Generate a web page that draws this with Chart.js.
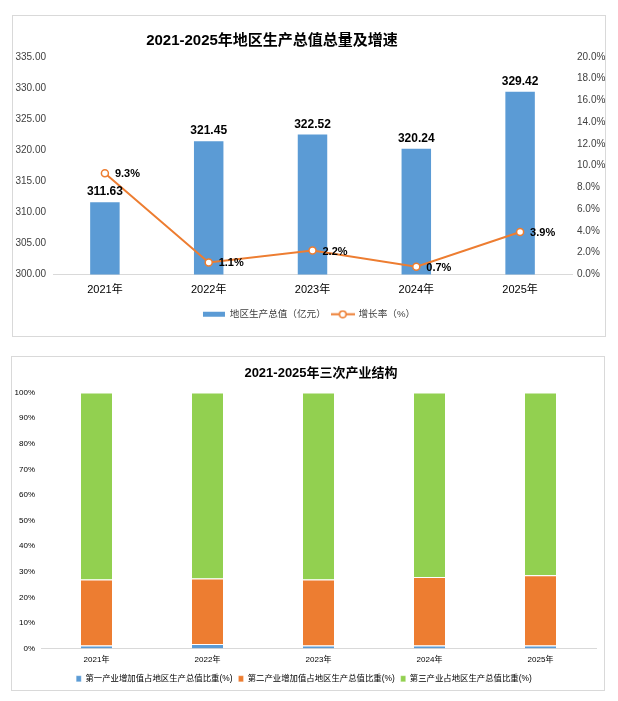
<!DOCTYPE html>
<html>
<head>
<meta charset="utf-8">
<script src="https://cdn.jsdelivr.net/npm/chart.js@4.4.1/dist/chart.umd.min.js"></script>
<style>
  body { margin: 0; background: #fff; width: 618px; height: 701px; position: relative; overflow: hidden; }
  .box { position: absolute; box-sizing: border-box; border: 1px solid #d9d9d9; }
  .box canvas { position: absolute; left: 0; top: 0; }
  .title { position: absolute; width: 400px; height: 20px; line-height: 20px; text-align: center; font-weight: bold; color: #000;
           font-family: "Liberation Sans", "Noto Sans CJK SC", sans-serif; }
</style>
</head>
<body>
<div class="box" style="left:12px;top:15px;width:594px;height:322px;">
  <canvas id="gdpChart" width="592" height="320"></canvas>
</div>
<div class="box" style="left:11px;top:356px;width:594px;height:335px;">
  <canvas id="structChart" width="592" height="336"></canvas>
</div>
<div class="title" style="left:72px;top:30px;font-size:15px;">2021-2025年地区生产总值总量及增速</div>
<div class="title" style="left:121px;top:363px;font-size:13px;">2021-2025年三次产业结构</div>

<script>
// Данные графиков
const years = ['2021年', '2022年', '2023年', '2024年', '2025年'];
const gdpValues = [311.63, 321.45, 322.52, 320.24, 329.42];   // 地区生产总值（亿元）
const growthRates = [9.3, 1.1, 2.2, 0.7, 3.9];                // 增长率（%）

const primaryShare = [1.2, 1.8, 1.2, 1.2, 1.2];
const secondaryShare = [25.8, 25.6, 25.8, 26.8, 27.4];
const tertiaryShare = [73.0, 72.6, 73.0, 72.0, 71.4];

const FONT = '"Liberation Sans", "Noto Sans CJK SC", sans-serif';
const BLUE = '#5B9BD5';
const ORANGE = '#ED7D31';
const GREEN = '#92D050';

Chart.defaults.font.family = FONT;
Chart.defaults.color = '#404040';

// Значок легенды для линии: отрезок с кружком
function lineLegendIcon() {
    const c = document.createElement('canvas');
    c.width = 24; c.height = 9;
    const g = c.getContext('2d');
    g.strokeStyle = ORANGE;
    g.lineWidth = 2;
    g.beginPath(); g.moveTo(0, 4.5); g.lineTo(24, 4.5); g.stroke();
    g.beginPath(); g.arc(12, 4.5, 3.3, 0, Math.PI * 2);
    g.fillStyle = '#fff'; g.fill();
    g.lineWidth = 1.5; g.stroke();
    return c;
}

// Подписи значений над столбцами и у точек
const valueLabels = {
    id: 'valueLabels',
    afterDatasetsDraw(chart) {
        const ctx = chart.ctx;
        ctx.save();
        ctx.fillStyle = '#000';
        const barMeta = chart.getDatasetMeta(0);
        ctx.font = 'bold 12px ' + FONT;
        ctx.textAlign = 'center';
        ctx.textBaseline = 'alphabetic';
        barMeta.data.forEach((el, i) => {
            ctx.fillText(gdpValues[i].toFixed(2), el.x, el.y - 7);
        });
        const lineMeta = chart.getDatasetMeta(1);
        ctx.font = 'bold 11px ' + FONT;
        ctx.textAlign = 'left';
        ctx.textBaseline = 'middle';
        lineMeta.data.forEach((el, i) => {
            ctx.fillText(growthRates[i].toFixed(1) + '%', el.x + 10, el.y + 1);
        });
        ctx.restore();
    }
};

// Верхний график: столбцы + линия
new Chart(document.getElementById('gdpChart'), {
    type: 'bar',
    data: {
        labels: years,
        datasets: [{
            label: '地区生产总值（亿元）',
            data: gdpValues,
            backgroundColor: BLUE,
            yAxisID: 'y',
            order: 1,
            barPercentage: 0.284,
            categoryPercentage: 1,
            pointStyle: 'rect'
        }, {
            type: 'line',
            label: '增长率（%）',
            data: growthRates,
            yAxisID: 'y1',
            order: 0,
            borderColor: ORANGE,
            borderWidth: 2,
            tension: 0,
            pointRadius: 3.5,
            pointBackgroundColor: '#fff',
            pointBorderColor: ORANGE,
            pointBorderWidth: 1.5
        }]
    },
    options: {
        responsive: false,
        animation: false,
        layout: { padding: { top: 41, bottom: 7, left: 0, right: 0 } },
        plugins: {
            tooltip: { enabled: false },
            legend: {
                position: 'bottom',
                labels: {
                    font: { size: 9.6 },
                    color: '#404040',
                    padding: 6,
                    usePointStyle: true,
                    pointStyleWidth: 22,
                    boxHeight: 5,
                    sort: (a, b) => a.datasetIndex - b.datasetIndex,
                    generateLabels(chart) {
                        const items = Chart.defaults.plugins.legend.labels.generateLabels(chart);
                        items.forEach(it => {
                            if (it.datasetIndex === 1) it.pointStyle = lineLegendIcon();
                            else it.pointStyle = 'rect';
                        });
                        return items;
                    }
                }
            }
        },
        scales: {
            x: {
                grid: { display: false, drawTicks: false },
                border: { display: true, color: '#d9d9d9', width: 1 },
                ticks: { font: { size: 11 }, color: '#000', padding: 9 },
                afterFit(scale) { scale.height = 29; }
            },
            y: {
                position: 'left',
                min: 300, max: 335,
                grid: { display: false, drawTicks: false },
                border: { display: false },
                ticks: { stepSize: 5, font: { size: 10 }, padding: 7, callback: v => v.toFixed(2) },
                afterFit(scale) { scale.width = 40; }
            },
            y1: {
                position: 'right',
                min: 0, max: 20,
                grid: { display: false, drawTicks: false },
                border: { display: false },
                ticks: { stepSize: 2, font: { size: 10 }, padding: 5, callback: v => v.toFixed(1) + '%' },
                afterFit(scale) { scale.width = 33; }
            }
        }
    },
    plugins: [valueLabels]
});

// Нижний график: структура по трём секторам
const sectorBar = (label, data, color) => ({
    label: label,
    data: data,
    backgroundColor: color,
    borderColor: '#fff',
    borderWidth: { top: 1, left: 0, right: 0, bottom: 0 },
    borderSkipped: false,
    barPercentage: 0.28,
    categoryPercentage: 1
});

new Chart(document.getElementById('structChart'), {
    type: 'bar',
    data: {
        labels: years,
        datasets: [
            sectorBar('第一产业增加值占地区生产总值比重(%)', primaryShare, BLUE),
            sectorBar('第二产业增加值占地区生产总值比重(%)', secondaryShare, ORANGE),
            sectorBar('第三产业占地区生产总值比重(%)', tertiaryShare, GREEN)
        ]
    },
    options: {
        responsive: false,
        animation: false,
        layout: { padding: { top: 35.5, bottom: 0, left: 0, right: 8 } },
        plugins: {
            tooltip: { enabled: false },
            legend: {
                position: 'bottom',
                labels: {
                    font: { size: 8.4 },
                    color: '#000',
                    padding: 6,
                    boxWidth: 5,
                    boxHeight: 6
                }
            }
        },
        scales: {
            x: {
                stacked: true,
                grid: { display: false, drawTicks: false },
                border: { display: true, color: '#d9d9d9', width: 1 },
                ticks: { font: { size: 8 }, color: '#000', padding: 6 },
                afterFit(scale) { scale.height = 20; }
            },
            y: {
                stacked: true,
                min: 0, max: 100,
                grid: { display: false, drawTicks: false },
                border: { display: false },
                ticks: { stepSize: 10, font: { size: 8 }, color: '#000', padding: 6, callback: v => v + '%' },
                afterFit(scale) { scale.width = 29; }
            }
        }
    }
});
</script>
</body>
</html>
